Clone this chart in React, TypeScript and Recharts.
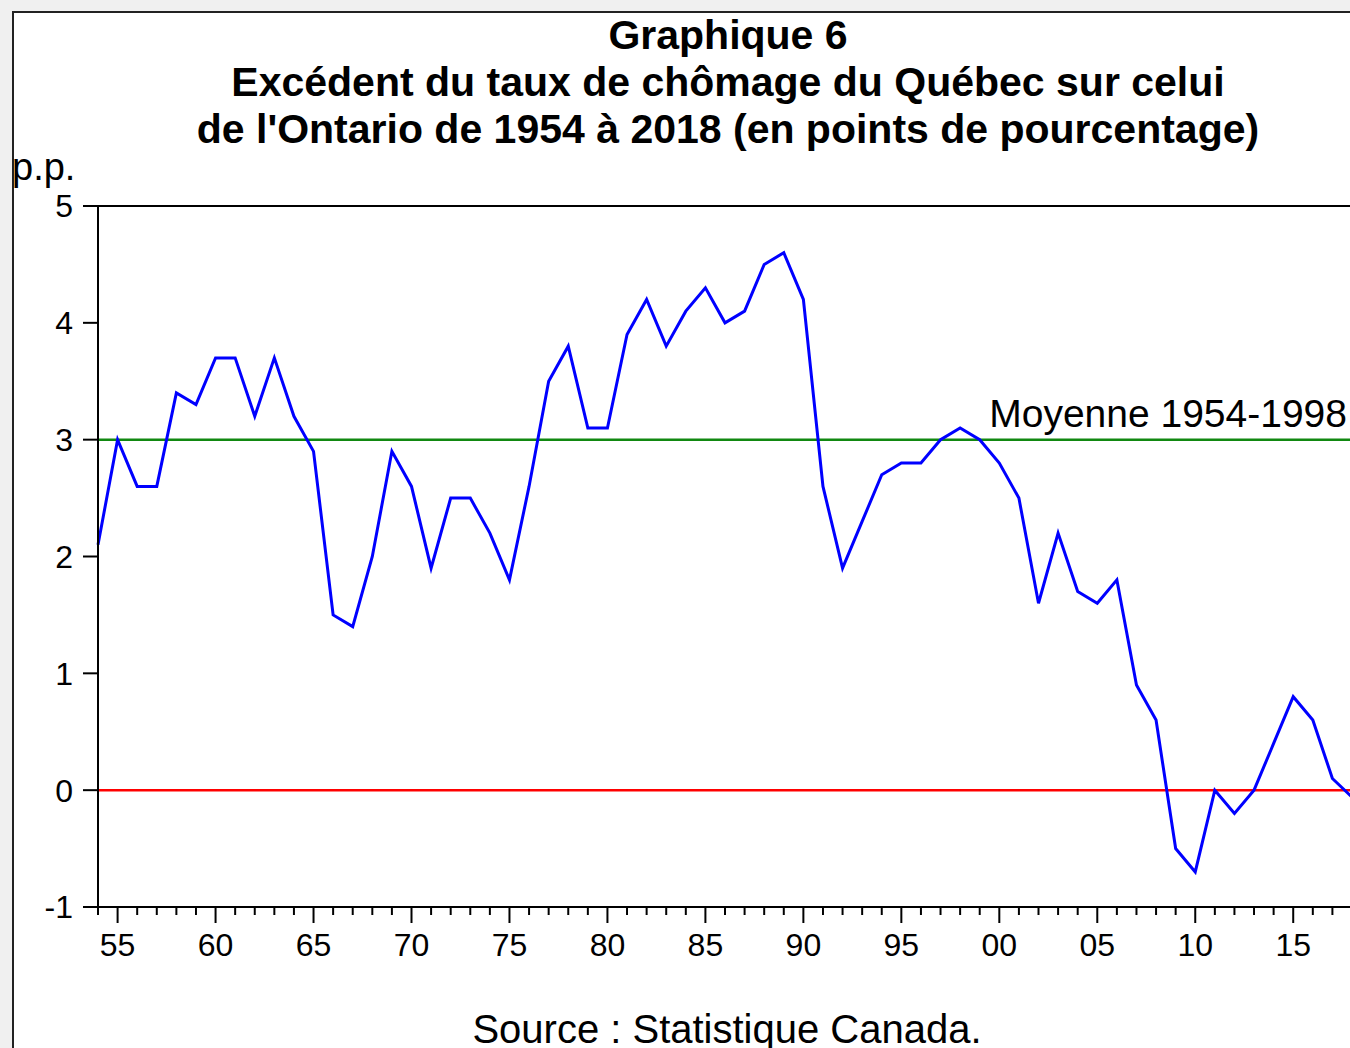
import { LineChart, Line, XAxis, YAxis, ReferenceLine } from "recharts"

// écart QC - ON, points de pourcentage, 1954 à 2018
const startYear = 1954
const gap = [
  2.1, 3.0, 2.6, 2.6, 3.4, 3.3, 3.7, 3.7, 3.2, 3.7,
  3.2, 2.9, 1.5, 1.4, 2.0, 2.9, 2.6, 1.9, 2.5, 2.5,
  2.2, 1.8, 2.6, 3.5, 3.8, 3.1, 3.1, 3.9, 4.2, 3.8,
  4.1, 4.3, 4.0, 4.1, 4.5, 4.6, 4.2, 2.6, 1.9, 2.3,
  2.7, 2.8, 2.8, 3.0, 3.1, 3.0, 2.8, 2.5, 1.6, 2.2,
  1.7, 1.6, 1.8, 0.9, 0.6, -0.5, -0.7, 0.0, -0.2, 0.0,
  0.4, 0.8, 0.6, 0.1, -0.06,
]
const years = gap.map((_, i) => startYear + i)
const yTicks = [-1, 0, 1, 2, 3, 4, 5]
const meanLevel = 3
const meanLabel = "Moyenne 1954-1998"
const titleLines = [
  "Graphique 6",
  "Excédent du taux de chômage du Québec sur celui",
  "de l'Ontario de 1954 à 2018 (en points de pourcentage)",
]
const unitLabel = "p.p."
const sourceText = "Source : Statistique Canada."

const data = years.map((year, i) => ({ year, gap: gap[i] }))

const FONT = "Arial, 'Liberation Sans', sans-serif"

function YearTick(props: any) {
  const { x, y, payload } = props
  const yr: number = payload.value
  const major = yr % 5 === 0
  return (
    <g>
      <line x1={x} x2={x} y1={y} y2={y + (major ? 16 : 8)} stroke="#000" strokeWidth={2} />
      {major && (
        <text x={x} y={y + 49} textAnchor="middle" fontSize={32} fill="#000">
          {String(yr % 100).padStart(2, "0")}
        </text>
      )}
    </g>
  )
}

function MeanLabel(props: any) {
  const vb = props.viewBox
  return (
    <text x={1347} y={vb.y - 13} textAnchor="end" fontSize={39} fill="#000">
      {meanLabel}
    </text>
  )
}

export default function App() {
  return (
    <div
      style={{
        position: "fixed", left: 0, top: 0, width: 1350, height: 1048,
        overflow: "hidden", background: "#f0f0f0", fontFamily: FONT, color: "#000",
      }}
    >
      <div
        style={{
          position: "absolute", left: 12, top: 11, width: 1420, height: 1120,
          border: "2px solid #222", background: "#fff",
        }}
      />
      {titleLines.map((t, i) => (
        <div
          key={i}
          style={{
            position: "absolute", left: 0, width: 1456, top: 15 + i * 47,
            textAlign: "center", fontSize: 41, lineHeight: "40px", fontWeight: "bold",
            whiteSpace: "nowrap",
          }}
        >
          {t}
        </div>
      ))}
      <div style={{ position: "absolute", left: 12, top: 148, fontSize: 38, lineHeight: "38px" }}>
        {unitLabel}
      </div>
      <div
        style={{
          position: "absolute", left: 0, width: 1454, top: 1009,
          textAlign: "center", fontSize: 40, lineHeight: "40px", whiteSpace: "nowrap",
        }}
      >
        {sourceText}
      </div>
      <div style={{ position: "absolute", left: 0, top: 0 }}>
        <LineChart width={1400} height={1048} data={data} margin={{ top: 206, right: 48, bottom: 81, left: 0 }}>
          <XAxis
            dataKey="year"
            type="number"
            domain={[1954, 2018]}
            ticks={years}
            interval={0}
            height={60}
            tickSize={0}
            tickMargin={0}
            tickLine={false}
            tick={<YearTick />}
            axisLine={{ stroke: "#000", strokeWidth: 2 }}
          />
          <YAxis
            domain={[-1, 5]}
            ticks={yTicks}
            interval={0}
            width={98}
            tickSize={15}
            tickMargin={10}
            tick={{ fontSize: 32, fill: "#000" }}
            tickLine={{ stroke: "#000", strokeWidth: 2 }}
            axisLine={{ stroke: "#000", strokeWidth: 2 }}
          />
          <ReferenceLine y={5} stroke="#000" strokeWidth={2} />
          <ReferenceLine y={0} stroke="#ff0000" strokeWidth={2.5} />
          <ReferenceLine y={meanLevel} stroke="#118811" strokeWidth={2.5} label={<MeanLabel />} />
          <Line
            type="linear"
            dataKey="gap"
            stroke="#0000ff"
            strokeWidth={3}
            dot={false}
            isAnimationActive={false}
          />
        </LineChart>
      </div>
    </div>
  )
}
